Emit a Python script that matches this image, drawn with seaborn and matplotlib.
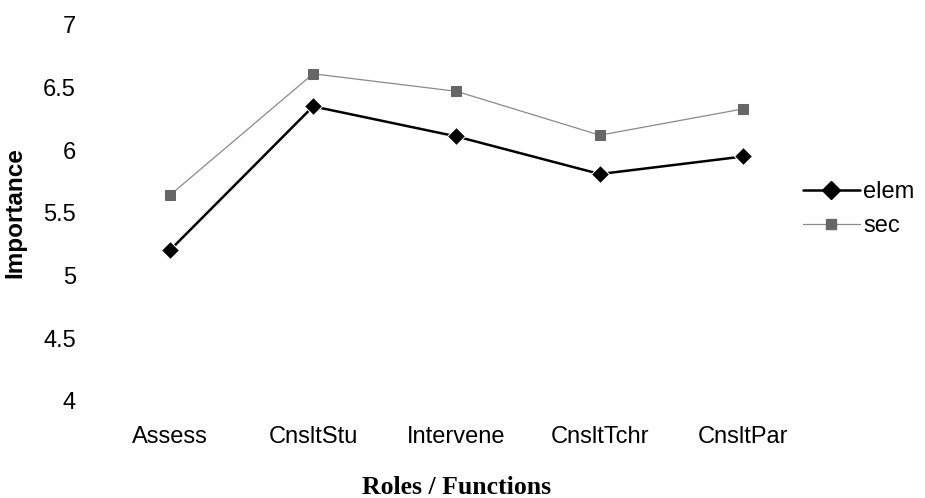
import pandas as pd
import matplotlib.pyplot as plt
import seaborn as sns
from matplotlib.lines import Line2D

roles = ['Assess', 'CnsltStu', 'Intervene', 'CnsltTchr', 'CnsltPar']
elem = [5.20, 6.35, 6.11, 5.81, 5.95]
sec = [5.64, 6.61, 6.47, 6.12, 6.33]

df = pd.DataFrame({'role': roles * 2,
                   'importance': elem + sec,
                   'group': ['elem'] * len(roles) + ['sec'] * len(roles)})
df['x'] = df['role'].map({r: i for i, r in enumerate(roles)})

sns.set_style('white')
plt.rcParams['font.family'] = ['Liberation Sans', 'DejaVu Sans']
plt.rcParams['text.color'] = 'black'
plt.rcParams['axes.labelcolor'] = 'black'
plt.rcParams['xtick.color'] = 'black'
plt.rcParams['ytick.color'] = 'black'

fig = plt.figure(figsize=(9.25, 4.98), dpi=100)
ax = fig.add_axes([0.106, 0.195, 0.775, 0.755])

sns.lineplot(data=df, x='x', y='importance', hue='group', style='group',
             palette={'elem': 'black', 'sec': '#8a8a8a'},
             markers={'elem': 'D', 'sec': 's'}, dashes=False,
             markersize=9, ax=ax, legend=False)
ax.lines[0].set_linewidth(1.8)
ax.lines[1].set_linewidth(0.9)
ax.lines[1].set_markersize(7.5)
ax.lines[1].set_markerfacecolor('#666666')
ax.lines[1].set_markeredgecolor('#666666')

ax.set_xlim(-0.5, 4.5)
ax.set_ylim(4, 7)
ax.set_xticks(range(len(roles)))
ax.set_xticklabels(roles)
ax.set_yticks([4, 4.5, 5, 5.5, 6, 6.5, 7])
ax.set_yticklabels(['4', '4.5', '5', '5.5', '6', '6.5', '7'])
ax.tick_params(axis='both', length=0, labelsize=17)
ax.tick_params(axis='x', pad=18)
ax.tick_params(axis='y', pad=16)
for s in ax.spines.values():
    s.set_visible(False)

ax.set_ylabel('Importance', fontsize=17.5, fontweight='bold', labelpad=12)
ax.set_xlabel('Roles / Functions', fontsize=18.5, fontweight='bold',
              family=['Liberation Serif'], labelpad=20)

handles = [Line2D([], [], color='black', lw=1.8, marker='D', markersize=9),
           Line2D([], [], color='#8a8a8a', lw=0.9, marker='s', markersize=7.5,
                  markerfacecolor='#666666', markeredgecolor='#666666')]
leg = fig.legend(handles, ['elem', 'sec'], loc='center left',
                 bbox_to_anchor=(0.845, 0.58), frameon=False, fontsize=17,
                 handlelength=2.4, handletextpad=0.15, labelspacing=0.5)

fig.savefig('out.png', dpi=100)
